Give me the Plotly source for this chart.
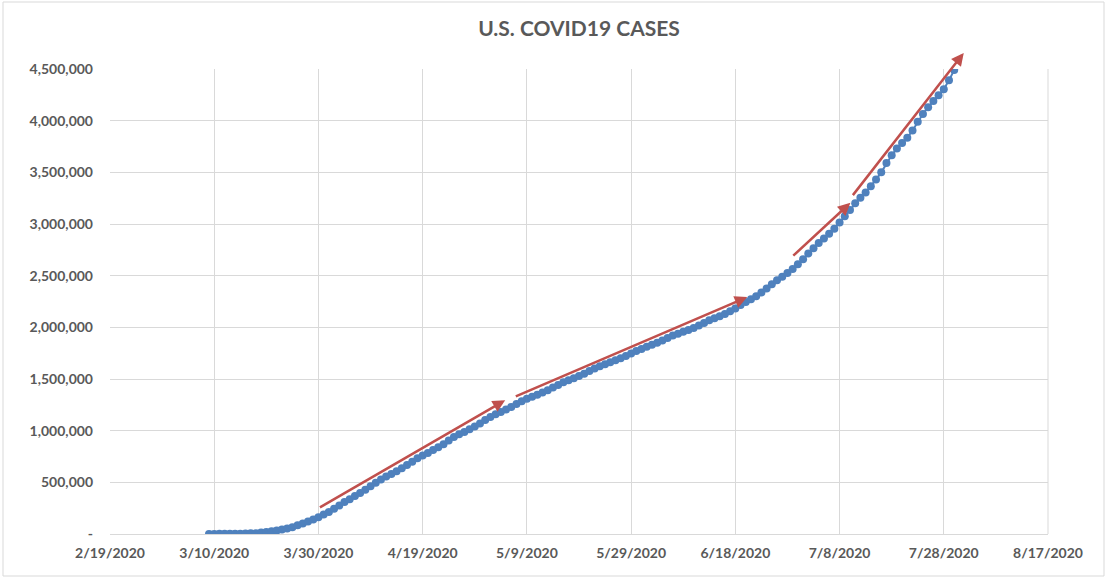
import plotly.graph_objects as go
import pandas as pd

start_date = "2020-03-09"
cases = [
    700, 1000, 1300, 1700, 2200, 2900, 3500, 4600, 6400, 7800,
    13700, 19100, 25500, 33300, 43800, 53700, 65800, 83800, 101700, 121500,
    140900, 161800, 188200, 213400, 243600, 275600, 308800, 337000, 366600, 396200,
    429000, 462800, 496500, 526400, 555300, 580600, 607700, 636400, 667800, 700000,
    732200, 759100, 784300, 811900, 840400, 869200, 905400, 938200, 965800, 988200,
    1012600, 1039900, 1069400, 1103500, 1132500, 1158000, 1180400, 1204400, 1229300, 1257000,
    1283900, 1309500, 1329300, 1347900, 1369400, 1390400, 1417800, 1442800, 1467800, 1486700,
    1508300, 1528600, 1551100, 1577100, 1601400, 1622600, 1643200, 1662300, 1681200, 1699900,
    1721800, 1747100, 1770200, 1790200, 1811000, 1831800, 1851500, 1872700, 1897800, 1920100,
    1938800, 1956400, 1973800, 1994300, 2017400, 2042600, 2068000, 2087000, 2107000, 2130000,
    2156000, 2183000, 2215000, 2246000, 2271000, 2302000, 2337000, 2375000, 2416000, 2455000,
    2490000, 2525000, 2565000, 2610000, 2660000, 2715000, 2765000, 2815000, 2860000, 2905000,
    2955000, 3015000, 3075000, 3135000, 3200000, 3255000, 3305000, 3365000, 3430000, 3500000,
    3590000, 3665000, 3730000, 3785000, 3835000, 3905000, 3990000, 4065000, 4130000, 4190000,
    4245000, 4305000, 4390000, 4490000,
]
dates = pd.date_range(start_date, periods=len(cases), freq="D")

y_ticks = [0, 500000, 1000000, 1500000, 2000000, 2500000, 3000000, 3500000, 4000000, 4500000]
y_tick_labels = ["-"] + [f"{v:,}" for v in y_ticks[1:]]

# trend arrows drawn by hand on the original: (start date, start value, end date, end value)
arrow_starts_x = ["2020-03-30", "2020-05-06 14:00", "2020-06-28 20:00", "2020-07-10 08:00"]
arrow_starts_y = [250000, 1325000, 2680000, 3265000]
arrow_ends_x = ["2020-05-04 20:00", "2020-06-20 07:00", "2020-07-10 02:00", "2020-07-31 20:00"]
arrow_ends_y = [1295000, 2293000, 3205000, 4655000]

GRAY = "#595959"
GRID = "#D9D9D9"
BLUE = "#4F81BD"
RED = "#C0504D"
FONT = "Lato"

fig = go.Figure()
fig.add_trace(go.Scatter(
    x=dates, y=cases, mode="lines+markers",
    line=dict(color=BLUE, width=2),
    marker=dict(color=BLUE, size=8),
    showlegend=False,
))

for sx, sy, ex, ey in zip(arrow_starts_x, arrow_starts_y, arrow_ends_x, arrow_ends_y):
    fig.add_annotation(
        x=ex, y=ey, ax=sx, ay=sy, xref="x", yref="y", axref="x", ayref="y",
        text="", showarrow=True, arrowhead=2, arrowsize=1.0, arrowwidth=2.5,
        arrowcolor=RED, standoff=0,
    )

L, R, T, B = 110, 59, 69, 45
W, H = 1107, 579
pw, ph = W - L - R, H - T - B
fig.add_shape(type="rect", xref="paper", yref="paper",
              x0=(3 - L) / pw, x1=(W - 3 - L) / pw,
              y0=-(H - 3 - T - ph) / ph, y1=1 + (T - 2) / ph,
              line=dict(color=GRID, width=1), layer="below")

fig.update_layout(
    width=W, height=H,
    margin=dict(l=L, r=R, t=T, b=B),
    paper_bgcolor="white", plot_bgcolor="white",
    title=dict(text="<b>U.S. COVID19 CASES</b>", x=0.5, xref="paper", xanchor="center",
               y=1 - 29 / H, yanchor="middle",
               font=dict(family=FONT, size=21, color=GRAY)),
    font=dict(family=FONT, color=GRAY),
)
fig.update_xaxes(
    type="date", range=["2020-02-19", "2020-08-17"],
    tick0="2020-02-19", dtick=20 * 86400000, tickformat="%-m/%-d/%Y",
    showgrid=True, gridcolor=GRID, gridwidth=1,
    showline=True, linecolor=GRID, linewidth=1, mirror=False,
    zeroline=False, ticks="", ticklabelstandoff=6,
    tickfont=dict(family=FONT, size=14, color=GRAY, weight="bold"),
)
fig.update_yaxes(
    range=[0, 4500000], tickvals=y_ticks, ticktext=y_tick_labels,
    showgrid=True, gridcolor=GRID, gridwidth=1,
    showline=False, zeroline=False, ticks="", ticklabelstandoff=16,
    tickfont=dict(family=FONT, size=14, color=GRAY, weight="bold"),
)
fig.add_shape(type="line", xref="paper", yref="paper", x0=1, x1=1, y0=0, y1=1,
              line=dict(color=GRID, width=1), layer="below")

fig.write_html("out.html", config={"displayModeBar": False},
               post_script="document.body.style.margin='0';document.body.style.overflow='hidden';")
